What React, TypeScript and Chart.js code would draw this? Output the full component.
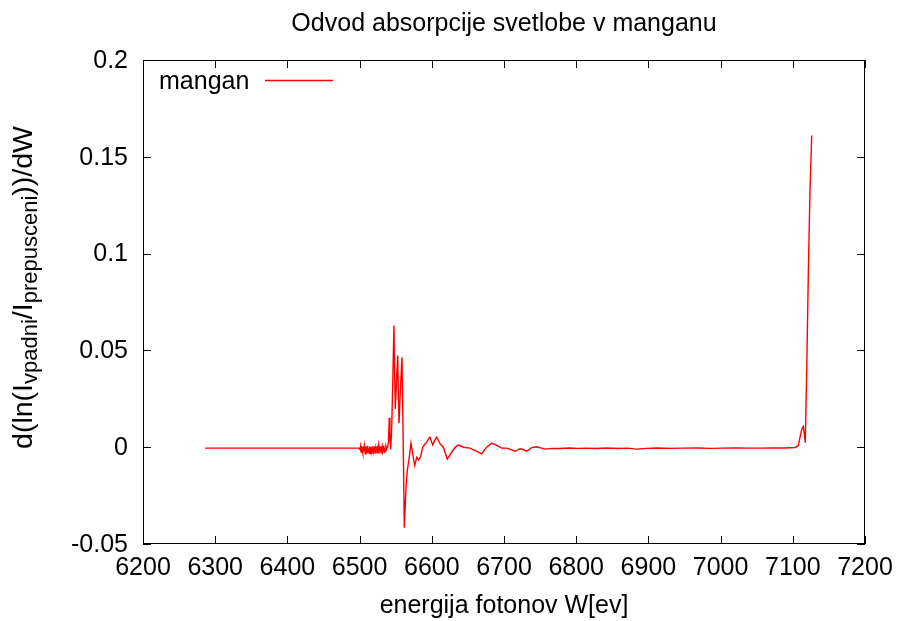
import React, { useEffect, useRef } from "react";
import { Chart, registerables } from "chart.js";

Chart.register(...registerables);

const chartTitle = "Odvod absorpcije svetlobe v manganu";
const xAxisTitle = "energija fotonov W[ev]";
const seriesName = "mangan";
const xTicks = [6200, 6300, 6400, 6500, 6600, 6700, 6800, 6900, 7000, 7100, 7200];
const yTicks = [-0.05, 0, 0.05, 0.1, 0.15, 0.2];
const yTickLabels = ["-0.05", "0", "0.05", "0.1", "0.15", "0.2"];

// photon energy [eV]
const energies = [
  6286, 6320, 6360, 6400, 6440, 6480, 6499,
  6500.5, 6501.3, 6502, 6502.8, 6503.5, 6504.3, 6505, 6505.8, 6506.5, 6507.3,
  6508, 6508.8, 6509.5, 6510.3, 6511, 6511.8, 6512.5, 6513.3, 6514, 6514.8,
  6515.5, 6516.3, 6517, 6517.8, 6518.5, 6519.3, 6520, 6520.8, 6521.5, 6522.3,
  6523, 6523.8, 6524.5, 6525.3, 6526, 6526.8, 6527.5, 6528.3, 6529, 6529.8,
  6530.5, 6531.3, 6532, 6532.8, 6533.5, 6534.3, 6535, 6535.8, 6536.5, 6537.5,
  6539, 6540, 6541.1, 6542, 6543.1, 6544.5, 6546, 6547.6, 6548.5, 6549.5,
  6551, 6552.8, 6553.7, 6554.6, 6556.5, 6558.7, 6560.3, 6561.9, 6564.3, 6566.1,
  6568.8, 6571.2, 6573.5, 6576.3, 6579.1, 6581.8, 6584.6, 6587.4, 6590.1, 6592.9,
  6595, 6597.5, 6601.2, 6604, 6606.8, 6611.4, 6615.9, 6621.5, 6627.6, 6632,
  6636.7, 6643.6, 6652.9, 6662.2, 6669.1, 6676, 6683, 6689.9, 6696.8, 6703.7,
  6708, 6715.2, 6722.1, 6726.5, 6731.4, 6738.4, 6745.3, 6756.8, 6767, 6777.6,
  6790, 6801, 6814.5, 6828, 6842, 6858.4, 6871, 6883.8, 6897, 6912,
  6930, 6950, 6968, 6985, 7003, 7020, 7038, 7054.6, 7072, 7088,
  7097, 7103, 7107.6, 7110, 7112.7, 7114.5, 7115.9, 7117.3, 7119.2, 7121.5,
  7123.8, 7126.2,
];

// d(ln(I_vpadni/I_prepusceni))/dW
const derivative = [
  -0.0005, -0.0005, -0.0005, -0.0005, -0.0005, -0.0005, -0.0005,
  -0.0012, 0.0004, -0.0025, 0.0006, -0.0018, -0.0032, 0.0002, -0.0022, 0.0008, -0.0015,
  -0.0034, 0.0003, -0.0012, -0.0028, 0.0007, -0.0020, -0.0006, -0.0031, 0.0005, -0.0017,
  -0.0026, 0.0001, -0.0035, -0.0009, 0.0006, -0.0024, -0.0013, 0.0004, -0.0030, -0.0008,
  -0.0019, 0.0005, -0.0027, -0.0011, 0.0008, -0.0033, -0.0004, -0.0016, 0.0003, -0.0029,
  -0.0007, 0.0006, -0.0022, -0.0012, 0.0009, -0.0026, -0.0003, -0.0018, 0.0004, -0.0010,
  0.0005, 0.0030, 0.0152, 0.0040, -0.0012, 0.0100, 0.0350, 0.0629, 0.0380, 0.0198,
  0.0330, 0.0474, 0.0260, 0.0124, 0.0300, 0.0465, 0.0050, -0.0416, -0.0207, -0.0120,
  -0.0052, 0.0021, -0.0034, -0.0095, -0.0052, -0.0065, -0.0048, 0.0000, 0.0014, 0.0026,
  0.0040, 0.0052, 0.0012, 0.0035, 0.0052, 0.0018, 0.0000, -0.0062, -0.0026, -0.0002,
  0.0012, 0.0000, -0.0005, -0.0021, -0.0034, 0.0000, 0.0021, 0.0009, -0.0005, -0.0005,
  -0.0010, -0.0021, -0.0008, -0.0012, -0.0021, -0.0002, 0.0002, -0.0010, -0.0006, -0.0007,
  -0.0004, -0.0006, -0.0005, -0.0007, -0.0004, -0.0007, -0.0005, -0.0010, -0.0006, -0.0004,
  -0.0006, -0.0005, -0.0004, -0.0006, -0.0005, -0.0004, -0.0005, -0.0005, -0.0004, -0.0004,
  -0.0003, -0.0002, 0.0009, 0.0052, 0.0095, 0.0107, 0.0069, 0.0023, 0.0379, 0.0896,
  0.1326, 0.1610,
];

const FONT = "'Liberation Sans', Arial, Helvetica, sans-serif";
const FS = 25;

const decorPlugin = {
  id: "decor",
  afterDraw(chart: any) {
    const { ctx, chartArea: a, scales } = chart;
    const xs = scales.x;
    const ys = scales.y;
    ctx.save();
    // frame
    ctx.strokeStyle = "#000";
    ctx.lineWidth = 1;
    ctx.strokeRect(a.left + 0.5, a.top + 0.5, a.right - a.left - 1, a.bottom - a.top - 1);
    const tl = 8;
    ctx.beginPath();
    xTicks.forEach((t) => {
      const px = Math.round(xs.getPixelForValue(t)) + 0.5;
      ctx.moveTo(px, a.bottom);
      ctx.lineTo(px, a.bottom - tl);
      ctx.moveTo(px, a.top);
      ctx.lineTo(px, a.top + tl);
    });
    yTicks.forEach((t) => {
      const py = Math.round(ys.getPixelForValue(t)) + 0.5;
      ctx.moveTo(a.left, py);
      ctx.lineTo(a.left + tl, py);
      ctx.moveTo(a.right, py);
      ctx.lineTo(a.right - tl, py);
    });
    ctx.stroke();

    ctx.fillStyle = "#000";
    ctx.font = `${FS}px ${FONT}`;
    // tick labels
    ctx.textAlign = "center";
    ctx.textBaseline = "alphabetic";
    xTicks.forEach((t) => {
      ctx.fillText(String(t), xs.getPixelForValue(t), 575);
    });
    ctx.textAlign = "right";
    ctx.textBaseline = "middle";
    yTicks.forEach((t, i) => {
      ctx.fillText(yTickLabels[i], a.left - 15, ys.getPixelForValue(t) + 1);
    });

    // title
    ctx.textAlign = "center";
    ctx.textBaseline = "alphabetic";
    ctx.fillText(chartTitle, (a.left + a.right) / 2, 31);
    // x axis title
    ctx.fillText(xAxisTitle, (a.left + a.right) / 2, 613);

    // legend
    ctx.textAlign = "left";
    ctx.fillText(seriesName, 159, 89);
    ctx.strokeStyle = "#ff0000";
    ctx.lineWidth = 1.3;
    ctx.beginPath();
    ctx.moveTo(265, 80.5);
    ctx.lineTo(333, 80.5);
    ctx.stroke();

    // y axis title with subscripts
    const main = 28.5;
    const sub = 22;
    const parts: [string, boolean][] = [
      ["d(ln(I", false],
      ["vpadni", true],
      ["/I", false],
      ["prepusceni", true],
      ["))/dW", false],
    ];
    let total = 0;
    parts.forEach(([s, isSub]) => {
      ctx.font = `${isSub ? sub : main}px ${FONT}`;
      total += ctx.measureText(s).width;
    });
    ctx.translate(32, 287.5);
    ctx.rotate(-Math.PI / 2);
    ctx.fillStyle = "#000";
    let cx = -total / 2;
    parts.forEach(([s, isSub]) => {
      ctx.font = `${isSub ? sub : main}px ${FONT}`;
      ctx.fillText(s, cx, isSub ? 5 : 0);
      cx += ctx.measureText(s).width;
    });
    ctx.restore();
  },
};

export default function App() {
  const ref = useRef<HTMLCanvasElement | null>(null);
  useEffect(() => {
    const canvas = ref.current;
    if (!canvas) return;
    const points = energies.map((e, i) => ({ x: e, y: derivative[i] }));
    const chart = new Chart(canvas, {
      type: "line",
      data: {
        datasets: [
          {
            label: seriesName,
            data: points,
            borderColor: "#ff0000",
            borderWidth: 1.4,
            pointRadius: 0,
            tension: 0,
            fill: false,
          },
        ],
      },
      options: {
        responsive: false,
        animation: false,
        events: [],
        layout: { padding: { top: 60, right: 34, left: 0, bottom: 0 } },
        plugins: {
          legend: { display: false },
          title: { display: false },
          tooltip: { enabled: false },
        },
        scales: {
          x: {
            type: "linear",
            min: 6200,
            max: 7200,
            grid: { display: false, drawTicks: false },
            border: { display: false },
            ticks: { display: false },
            afterFit: (s: any) => {
              s.height = 77;
            },
          },
          y: {
            type: "linear",
            min: -0.05,
            max: 0.2,
            grid: { display: false, drawTicks: false },
            border: { display: false },
            ticks: { display: false },
            afterFit: (s: any) => {
              s.width = 143;
            },
          },
        },
      },
      plugins: [decorPlugin],
    });
    return () => chart.destroy();
  }, []);
  return (
    <div style={{ position: "absolute", left: 0, top: 0, width: 899, height: 621, background: "#fff" }}>
      <canvas ref={ref} width={899} height={621} style={{ display: "block" }} />
    </div>
  );
}
